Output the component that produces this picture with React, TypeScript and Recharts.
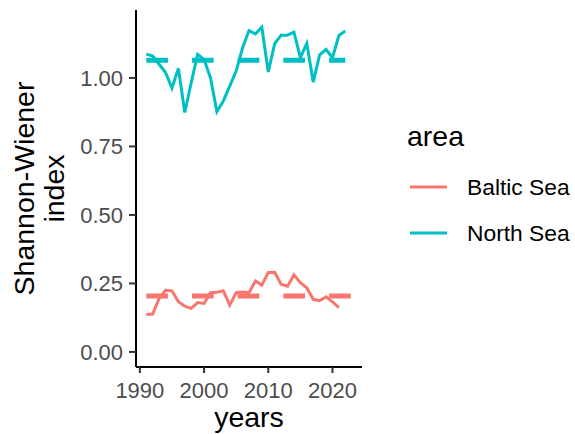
import React from "react";
import { LineChart, Line, XAxis, YAxis } from "recharts";

const years = [1991, 1992, 1993, 1994, 1995, 1996, 1997, 1998, 1999, 2000, 2001, 2002, 2003, 2004, 2005, 2006, 2007, 2008, 2009, 2010, 2011, 2012, 2013, 2014, 2015, 2016, 2017, 2018, 2019, 2020, 2021, 2022];

const northSea = [1.087, 1.08, 1.05, 1.02, 0.963, 1.035, 0.874, 0.983, 1.086, 1.068, 1.0, 0.877, 0.916, 0.97, 1.025, 1.11, 1.173, 1.161, 1.185, 1.022, 1.125, 1.156, 1.156, 1.167, 1.074, 1.126, 0.985, 1.084, 1.104, 1.074, 1.155, 1.171];

const balticSea = [0.137, 0.138, 0.195, 0.225, 0.223, 0.183, 0.167, 0.159, 0.18, 0.177, 0.216, 0.218, 0.223, 0.171, 0.216, 0.219, 0.216, 0.259, 0.244, 0.29, 0.291, 0.247, 0.24, 0.281, 0.253, 0.234, 0.192, 0.187, 0.201, 0.183, 0.162];

const meanYears = { baltic: [1991, 2023], north: [1991, 2022] };
const meanValues = { baltic: 0.204, north: 1.065 };

const xTicks = [1990, 2000, 2010, 2020];
const yTicks = [0, 0.25, 0.5, 0.75, 1.0];

const BALTIC = "#F8766D";
const NORTH = "#00BFC4";
const FONT = "'Liberation Sans', Arial, sans-serif";

const northData = years.map((y, i) => ({ year: y, v: northSea[i] }));
const balticData = balticSea.map((v, i) => ({ year: years[i], v }));
const balticMean = meanYears.baltic.map((y) => ({ year: y, v: meanValues.baltic }));
const northMean = meanYears.north.map((y) => ({ year: y, v: meanValues.north }));

export default function App() {
  return (
    <div style={{ position: "absolute", left: 0, top: 0, width: 575, height: 434, background: "#fff", fontFamily: FONT }}>
      <LineChart width={575} height={434} margin={{ top: 10, right: 213, bottom: 0, left: 0 }}>
        <XAxis
          type="number"
          dataKey="year"
          domain={[1989.4, 2024.6]}
          allowDataOverflow
          ticks={xTicks}
          tickFormatter={(v) => String(v)}
          height={67}
          tickSize={6}
          tickMargin={9}
          axisLine={{ stroke: "#000", strokeWidth: 2 }}
          tickLine={{ stroke: "#333", strokeWidth: 2 }}
          tick={{ fill: "#4D4D4D", fontSize: 22, fontFamily: FONT }}
        />
        <YAxis
          type="number"
          dataKey="v"
          domain={[-0.055, 1.248]}
          allowDataOverflow
          ticks={yTicks}
          tickFormatter={(v) => v.toFixed(2)}
          width={136}
          tickSize={7}
          tickMargin={6}
          axisLine={{ stroke: "#000", strokeWidth: 2 }}
          tickLine={{ stroke: "#333", strokeWidth: 2 }}
          tick={{ fill: "#4D4D4D", fontSize: 22, fontFamily: FONT }}
        />
        <Line data={balticMean} dataKey="v" stroke={BALTIC} strokeWidth={5} strokeDasharray="21.7 24" dot={false} isAnimationActive={false} strokeLinecap="butt" />
        <Line data={northMean} dataKey="v" stroke={NORTH} strokeWidth={5} strokeDasharray="21.7 24" dot={false} isAnimationActive={false} strokeLinecap="butt" />
        <Line data={balticData} dataKey="v" stroke={BALTIC} strokeWidth={3} dot={false} isAnimationActive={false} />
        <Line data={northData} dataKey="v" stroke={NORTH} strokeWidth={3} dot={false} isAnimationActive={false} />
      </LineChart>
      <svg width={575} height={434} style={{ position: "absolute", left: 0, top: 0, pointerEvents: "none" }}>
        <text x={249} y={427} textAnchor="middle" fontSize={28.5} fill="#000" fontFamily={FONT}>years</text>
        <text transform="translate(34,188.5) rotate(-90)" textAnchor="middle" fontSize={28.5} fill="#000" fontFamily={FONT}>Shannon-Wiener</text>
        <text transform="translate(64,188.5) rotate(-90)" textAnchor="middle" fontSize={28.5} fill="#000" fontFamily={FONT}>index</text>
        <text x={407} y={146} fontSize={28.5} fill="#000" fontFamily={FONT}>area</text>
        <line x1={410} x2={447} y1={187} y2={187} stroke={BALTIC} strokeWidth={3} />
        <text x={467} y={195} fontSize={22.8} fill="#000" fontFamily={FONT}>Baltic Sea</text>
        <line x1={410} x2={447} y1={233} y2={233} stroke={NORTH} strokeWidth={3} />
        <text x={467} y={241} fontSize={22.8} fill="#000" fontFamily={FONT}>North Sea</text>
      </svg>
    </div>
  );
}
